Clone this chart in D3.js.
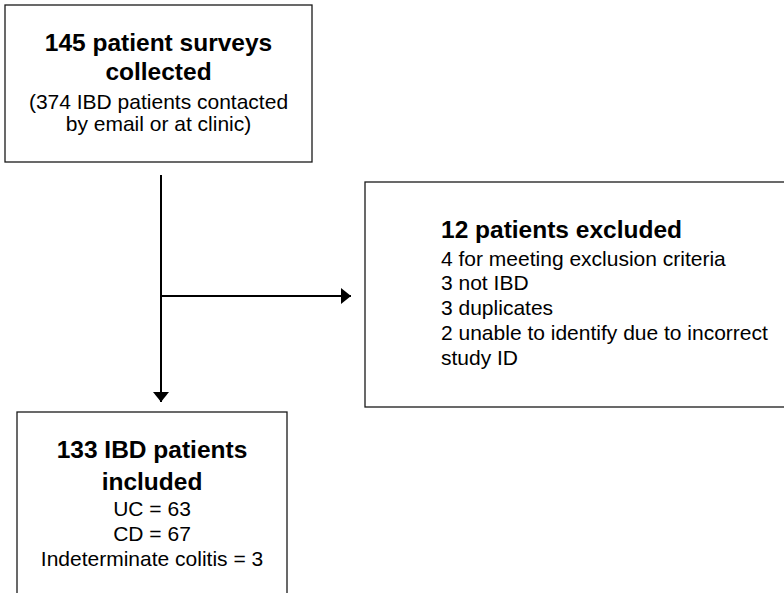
<!DOCTYPE html>
<html lang="en">
<head>
<meta charset="UTF-8">
<title>Patient flow</title>
<script src="https://d3js.org/d3.v7.min.js"></script>
<style>
  body { margin: 0; background: #fff; }
  svg { display: block; }
  .box { fill: #fff; stroke: #1a1a1a; stroke-width: 1.3; }
  .flow { stroke: #000; stroke-width: 2; fill: none; }
  text { font-family: "Liberation Sans", Arial, Helvetica, sans-serif; fill: #000; }
  .title { font-weight: bold; font-size: 24.5px; }
  .body { font-size: 21px; }
</style>
</head>
<body>
<div id="chart"></div>
<script>
// text for each box
const surveyTitle = ["145 patient surveys", "collected"];
const surveyLines = ["(374 IBD patients contacted", "by email or at clinic)"];
const excludedTitle = ["12 patients excluded"];
const excludedLines = ["4 for meeting exclusion criteria", "3 not IBD", "3 duplicates",
                       "2 unable to identify due to incorrect", "study ID"];
const includedTitle = ["133 IBD patients", "included"];
const includedLines = ["UC = 63", "CD = 67", "Indeterminate colitis = 3"];

const width = 784, height = 593;

// layout (pixels)
const boxes = [
  { title: surveyTitle, lines: surveyLines, x: 5, y: 5, w: 307, h: 157, align: "middle",
    titleY: 51, titleStep: 29, lineY: 109, lineStep: 22 },
  { title: excludedTitle, lines: excludedLines, x: 365, y: 182, w: 430, h: 225, align: "start",
    textX: 441, titleY: 238, titleStep: 29, lineY: 265.5, lineStep: 24.8 },
  { title: includedTitle, lines: includedLines, x: 17, y: 412, w: 270, h: 200, align: "middle",
    titleY: 458, titleStep: 31.5, lineY: 516, lineStep: 25.2 }
];

const svg = d3.select("#chart").append("svg")
  .attr("width", width)
  .attr("height", height);

// arrow head: 10px long, 16px wide
svg.append("defs").append("marker")
  .attr("id", "head")
  .attr("viewBox", "0 0 10 16")
  .attr("refX", 10).attr("refY", 8)
  .attr("markerWidth", 10).attr("markerHeight", 16)
  .attr("markerUnits", "userSpaceOnUse")
  .attr("orient", "auto")
  .append("path")
  .attr("d", "M0,0 L10,8 L0,16 Z")
  .attr("fill", "#000");

// arrows
const stemX = 161;
svg.append("line").attr("class", "flow")
  .attr("x1", stemX).attr("y1", 175).attr("x2", stemX).attr("y2", 402)
  .attr("marker-end", "url(#head)");
svg.append("line").attr("class", "flow")
  .attr("x1", stemX).attr("y1", 296).attr("x2", 351).attr("y2", 296)
  .attr("marker-end", "url(#head)");

const g = svg.selectAll("g.node")
  .data(boxes)
  .join("g")
  .attr("class", "node");

g.append("rect")
  .attr("class", "box")
  .attr("x", d => d.x).attr("y", d => d.y)
  .attr("width", d => d.w).attr("height", d => d.h);

g.each(function(d) {
  const node = d3.select(this);
  const tx = d.align === "middle" ? d.x + d.w / 2 : d.textX;
  node.selectAll("text.title")
    .data(d.title)
    .join("text")
    .attr("class", "title")
    .attr("x", tx)
    .attr("y", (t, i) => d.titleY + i * d.titleStep)
    .attr("text-anchor", d.align)
    .text(t => t);
  node.selectAll("text.body")
    .data(d.lines)
    .join("text")
    .attr("class", "body")
    .attr("x", tx)
    .attr("y", (t, i) => d.lineY + i * d.lineStep)
    .attr("text-anchor", d.align)
    .text(t => t);
});
</script>
</body>
</html>
